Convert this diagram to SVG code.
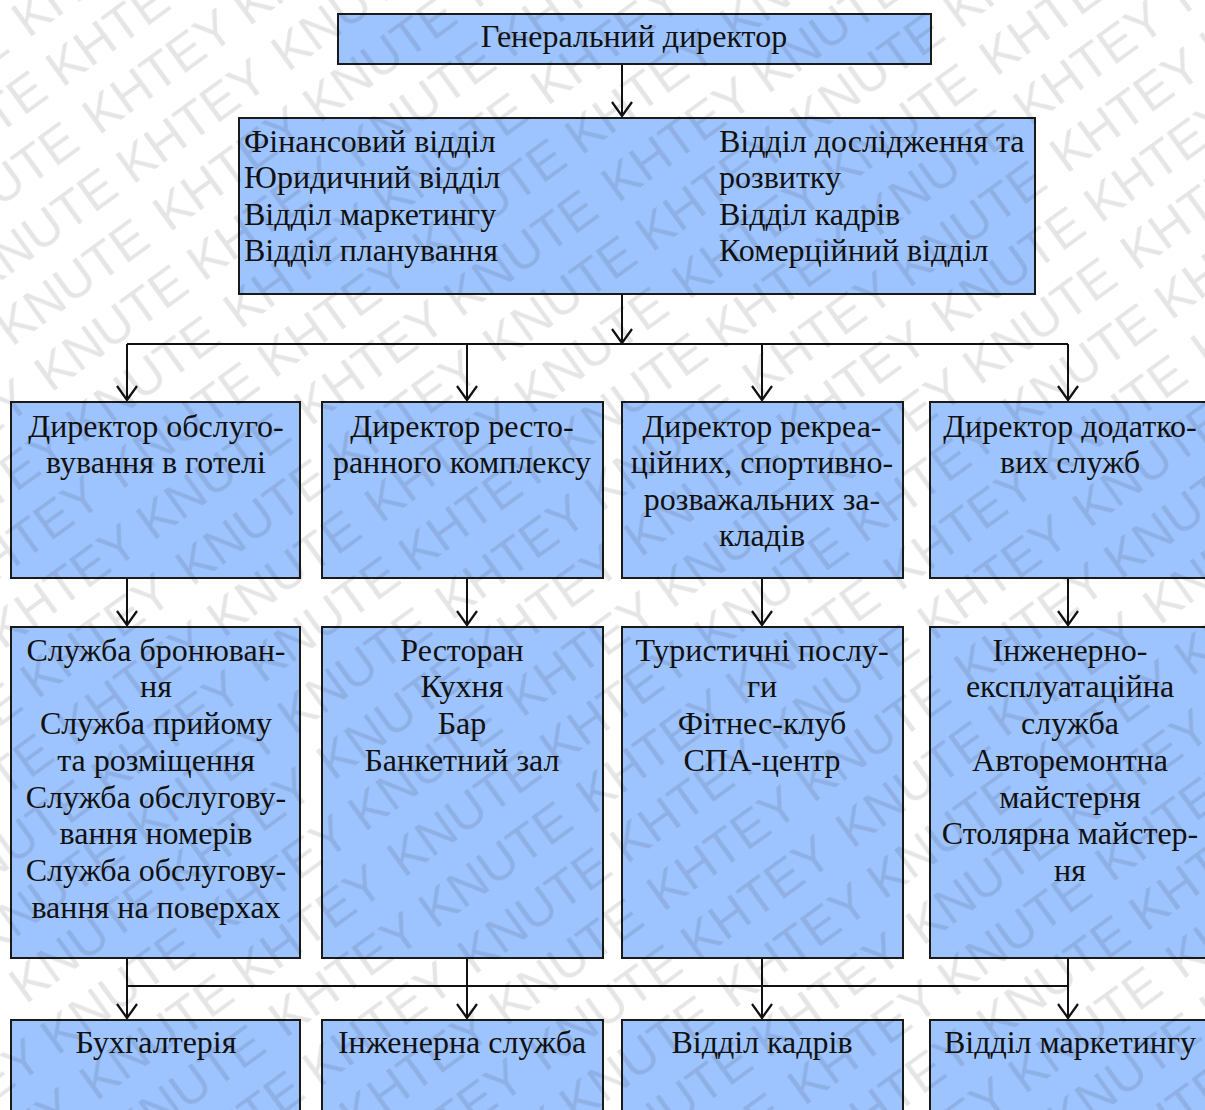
<svg xmlns="http://www.w3.org/2000/svg" width="1205" height="1110" viewBox="0 0 1205 1110">
<style>
.box{fill:#9ec4ff;stroke:#1a1a1a;stroke-width:2}
.t{font-family:"Liberation Serif","Times New Roman",serif;font-size:32px;fill:#111}
.c{text-anchor:middle}
.ln{fill:none;stroke:#111;stroke-width:2}
.wm{font-family:"Liberation Sans",Arial,sans-serif;font-size:50px;fill:#000;fill-opacity:0.1}
</style>
<defs>
<marker id="ah" viewBox="0 0 20 24" refX="18" refY="12" markerWidth="20" markerHeight="24" markerUnits="userSpaceOnUse" orient="auto">
<polyline points="4,2 18,12 4,22" fill="none" stroke="#111" stroke-width="2.2"/>
</marker>
<pattern id="wmp" patternUnits="userSpaceOnUse" width="380" height="120" patternTransform="rotate(-36)">
<text class="wm" x="0" y="48" textLength="360" lengthAdjust="spacingAndGlyphs">KHTEY KNUTE</text>
<text class="wm" x="190" y="108" textLength="360" lengthAdjust="spacingAndGlyphs">KNUTE KHTEY</text>
<text class="wm" x="-190" y="108" textLength="360" lengthAdjust="spacingAndGlyphs">KNUTE KHTEY</text>
</pattern>
</defs>
<rect width="1205" height="1110" fill="#fff"/>
<g id="connectors">
<line class="ln" x1="622" y1="64" x2="622" y2="116" marker-end="url(#ah)"/>
<line class="ln" x1="622" y1="294" x2="622" y2="343" marker-end="url(#ah)"/>
<line class="ln" x1="127" y1="344" x2="1068" y2="344"/>
<line class="ln" x1="127" y1="344" x2="127" y2="400" marker-end="url(#ah)"/>
<line class="ln" x1="467" y1="344" x2="467" y2="400" marker-end="url(#ah)"/>
<line class="ln" x1="762" y1="344" x2="762" y2="400" marker-end="url(#ah)"/>
<line class="ln" x1="1068" y1="344" x2="1068" y2="400" marker-end="url(#ah)"/>
<line class="ln" x1="127" y1="578" x2="127" y2="625" marker-end="url(#ah)"/>
<line class="ln" x1="467" y1="578" x2="467" y2="625" marker-end="url(#ah)"/>
<line class="ln" x1="762" y1="578" x2="762" y2="625" marker-end="url(#ah)"/>
<line class="ln" x1="1068" y1="578" x2="1068" y2="625" marker-end="url(#ah)"/>
<line class="ln" x1="127" y1="986" x2="1068" y2="986"/>
<line class="ln" x1="127" y1="958" x2="127" y2="1018" marker-end="url(#ah)"/>
<line class="ln" x1="467" y1="958" x2="467" y2="1018" marker-end="url(#ah)"/>
<line class="ln" x1="762" y1="958" x2="762" y2="1018" marker-end="url(#ah)"/>
<line class="ln" x1="1068" y1="958" x2="1068" y2="1018" marker-end="url(#ah)"/>
</g>
<g id="n-gen">
<rect class="box" x="338" y="14" width="593" height="50"/>
<text class="t c" x="634" y="47">Генеральний директор</text>
</g>
<g id="n-depts">
<rect class="box" x="239" y="118" width="796" height="176"/>
<text class="t" x="244" y="152">Фінансовий відділ</text>
<text class="t" x="244" y="188">Юридичний відділ</text>
<text class="t" x="244" y="225">Відділ маркетингу</text>
<text class="t" x="244" y="261">Відділ планування</text>
<text class="t" x="719" y="152">Відділ дослідження та</text>
<text class="t" x="719" y="188">розвитку</text>
<text class="t" x="719" y="225">Відділ кадрів</text>
<text class="t" x="719" y="261">Комерційний відділ</text>
</g>
<g id="n-dir1">
<rect class="box" x="11" y="402" width="289" height="176"/>
<text class="t c" x="156" y="437">Директор обслуго-</text>
<text class="t c" x="156" y="473">вування в готелі</text>
</g>
<g id="n-dir2">
<rect class="box" x="322" y="402" width="281" height="176"/>
<text class="t c" x="462" y="437">Директор ресто-</text>
<text class="t c" x="462" y="473">ранного комплексу</text>
</g>
<g id="n-dir3">
<rect class="box" x="622" y="402" width="281" height="176"/>
<text class="t c" x="762" y="437">Директор рекреа-</text>
<text class="t c" x="762" y="473">ційних, спортивно-</text>
<text class="t c" x="762" y="510">розважальних за-</text>
<text class="t c" x="762" y="546">кладів</text>
</g>
<g id="n-dir4">
<rect class="box" x="930" y="402" width="282" height="176"/>
<text class="t c" x="1070" y="437">Директор додатко-</text>
<text class="t c" x="1070" y="473">вих служб</text>
</g>
<g id="n-srv1">
<rect class="box" x="11" y="627" width="289" height="331"/>
<text class="t c" x="156" y="661">Служба бронюван-</text>
<text class="t c" x="156" y="697">ня</text>
<text class="t c" x="156" y="734">Служба прийому</text>
<text class="t c" x="156" y="771">та розміщення</text>
<text class="t c" x="156" y="808">Служба обслугову-</text>
<text class="t c" x="156" y="844">вання номерів</text>
<text class="t c" x="156" y="881">Служба обслугову-</text>
<text class="t c" x="156" y="918">вання на поверхах</text>
</g>
<g id="n-srv2">
<rect class="box" x="322" y="627" width="281" height="331"/>
<text class="t c" x="462" y="661">Ресторан</text>
<text class="t c" x="462" y="697">Кухня</text>
<text class="t c" x="462" y="734">Бар</text>
<text class="t c" x="462" y="771">Банкетний зал</text>
</g>
<g id="n-srv3">
<rect class="box" x="622" y="627" width="281" height="331"/>
<text class="t c" x="762" y="661">Туристичні послу-</text>
<text class="t c" x="762" y="697">ги</text>
<text class="t c" x="762" y="734">Фітнес-клуб</text>
<text class="t c" x="762" y="771">СПА-центр</text>
</g>
<g id="n-srv4">
<rect class="box" x="930" y="627" width="282" height="331"/>
<text class="t c" x="1070" y="661">Інженерно-</text>
<text class="t c" x="1070" y="697">експлуатаційна</text>
<text class="t c" x="1070" y="734">служба</text>
<text class="t c" x="1070" y="771">Авторемонтна</text>
<text class="t c" x="1070" y="808">майстерня</text>
<text class="t c" x="1070" y="844">Столярна майстер-</text>
<text class="t c" x="1070" y="881">ня</text>
</g>
<g id="n-acc">
<rect class="box" x="11" y="1020" width="289" height="100"/>
<text class="t c" x="156" y="1053">Бухгалтерія</text>
</g>
<g id="n-eng">
<rect class="box" x="322" y="1020" width="281" height="100"/>
<text class="t c" x="462" y="1053">Інженерна служба</text>
</g>
<g id="n-hr">
<rect class="box" x="622" y="1020" width="281" height="100"/>
<text class="t c" x="762" y="1053">Відділ кадрів</text>
</g>
<g id="n-mkt">
<rect class="box" x="930" y="1020" width="282" height="100"/>
<text class="t c" x="1070" y="1053">Відділ маркетингу</text>
</g>
<rect id="watermark" width="1205" height="1110" fill="url(#wmp)" pointer-events="none"/>
</svg>
